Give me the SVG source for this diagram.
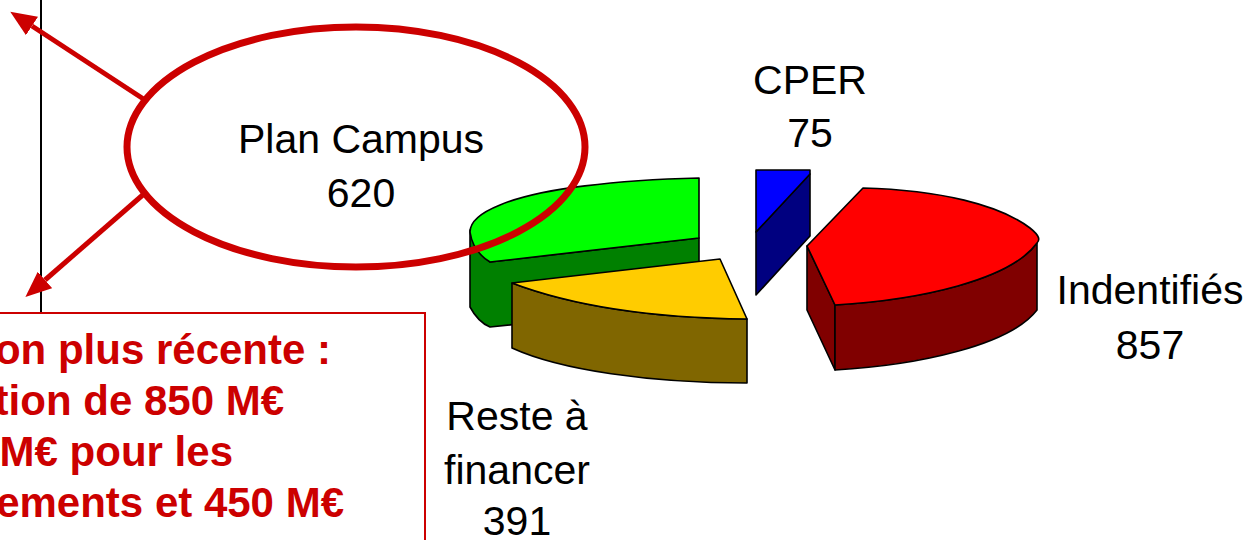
<svg xmlns="http://www.w3.org/2000/svg" width="1249" height="540" viewBox="0 0 1249 540">
<style>
.lbl{font-family:"Liberation Sans",Arial,sans-serif;font-size:41px;fill:#000;text-anchor:middle}
.note{font-family:"Liberation Sans",Arial,sans-serif;font-size:42px;font-weight:bold;fill:#CC0000;text-anchor:end}
.pie{stroke:#000;stroke-width:1.6;stroke-linejoin:round}
.red{stroke:#CC0000;fill:none}
</style>
<defs>
<marker id="ah" markerUnits="userSpaceOnUse" viewBox="0 -11 26 22" refX="0" refY="0" markerWidth="26" markerHeight="22" orient="auto">
<path d="M0,-11 L26,0 L0,11 z" fill="#CC0000"/>
</marker>
</defs>
<rect width="1249" height="540" fill="#fff"/>
<line x1="41" y1="0" x2="41" y2="313" stroke="#000" stroke-width="2"/>
<g id="note">
<rect x="-5" y="313" width="430" height="240" fill="#fff" stroke="#CC0000" stroke-width="2"/>
<text class="note" x="331" y="364">on plus récente :</text>
<text class="note" x="284" y="415">tion de 850 M€</text>
<text class="note" x="233" y="466">M€ pour les</text>
<text class="note" x="344" y="517">ements et 450 M€</text>
</g>
<g id="pie">
<g id="green">
<path class="pie" fill="#008000" d="M470,230 L470,307 Q478,322 490,327 L699,305 L699,238 L490,262 Q476,250 470,230 Z"/>
<path class="pie" fill="#00FF00" d="M699,178 C620,180 540,188 500,205 C480,213 470,222 470,232 C472,246 480,256 490,262 L699,238 Z"/>
</g>
<g id="yellow">
<path class="pie" fill="#806600" d="M512,283 L512,348 C560,370 650,383 747,383 L747,319 C650,318 570,305 512,283 Z"/>
<path class="pie" fill="#FFCC00" d="M512,283 L720,259 L747,319 C650,318 570,305 512,283 Z"/>
</g>
<g id="blue">
<path class="pie" fill="#000080" d="M756,232 L810,174 L810,236 L756,295 Z"/>
<path class="pie" fill="#0000FF" d="M756,170 L810,170 L810,174 L756,232 Z"/>
</g>
<g id="redslice">
<path class="pie" fill="#800000" d="M807,246 L835,305 L835,370 L807,310 Z"/>
<path class="pie" fill="#800000" d="M835,305 C920,300 1010,280 1037,243 L1037,310 C1010,345 920,365 835,370 Z"/>
<path class="pie" fill="#FF0000" d="M807,246 L863,188 C940,190 1000,205 1030,228 C1040,236 1040,240 1037,243 C1010,280 920,300 835,305 Z"/>
</g>
</g>
<g id="labels">
<text class="lbl" x="810" y="94">CPER</text>
<text class="lbl" x="810" y="147">75</text>
<text class="lbl" x="1150" y="304">Indentifiés</text>
<text class="lbl" x="1150" y="359">857</text>
<text class="lbl" x="517" y="430">Reste à</text>
<text class="lbl" x="517" y="484">financer</text>
<text class="lbl" x="517" y="535">391</text>
</g>
<g id="plancampus">
<ellipse class="red" cx="356" cy="147" rx="229" ry="120" stroke-width="7"/>
<text class="lbl" x="361" y="153">Plan Campus</text>
<text class="lbl" x="361" y="207">620</text>
</g>
<g id="connectors">
<line class="red" x1="145" y1="100" x2="32" y2="26" stroke-width="5" marker-end="url(#ah)"/>
<line class="red" x1="145" y1="193" x2="45" y2="280" stroke-width="5" marker-end="url(#ah)"/>
</g>
</svg>
